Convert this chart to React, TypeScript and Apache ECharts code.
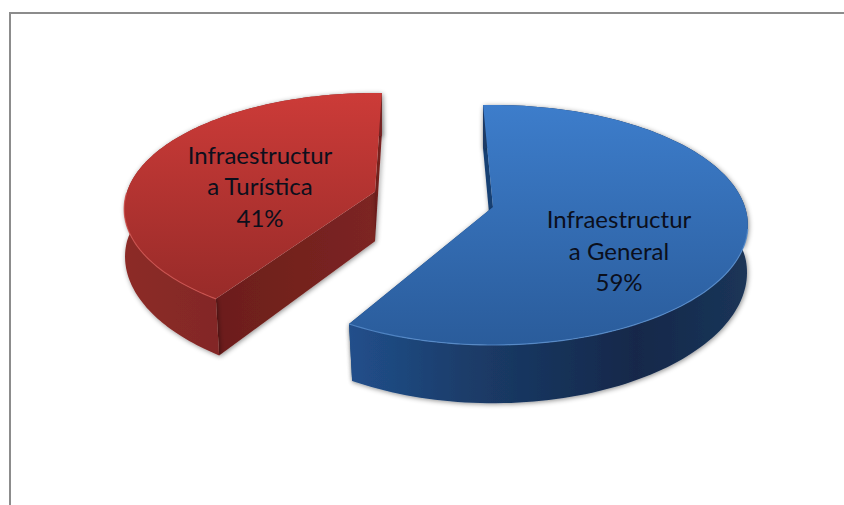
import React, { useEffect, useRef } from "react";
import * as echarts from "echarts";

const categories = ["Infraestructura General", "Infraestructura Turística"];
const values = [59, 41];

// Projection of each exploded slice (layout only)
const centers = [[493, 207], [375, 191.7]];
const radiiX = [252, 248];
const radiiY = [117.3, 113.5];
const startAngles = [-2.6, 214.2];
const labelPositions = [[619, 250], [260, 185.5]];
const PERSPECTIVE = 0.15;
const DEPTH = 49.5;
const BOTTOM_NARROWING = 0.025;
const WRAP_AT = 14;

const topColors = [["#3d7dcb", "#2a5c9b"], ["#cc3b38", "#982b29"]];
const rimColors = ["#5a90d0", "#cf5450"];
const wallColors = [
  [[0, "#214f8b"], [0.3, "#1b3c69"], [0.72, "#13284a"], [1, "#1b3558"]],
  [[0, "#8c2b28"], [0.5, "#7f2624"], [1, "#742321"]],
];
const faceColors = [
  [[0, "#173f73"], [1, "#173f73"]],
  [[0, "#6c1e1b"], [1, "#7c2522"]],
];

const rad = (d: number) => (d * Math.PI) / 180;

function App() {
  const ref = useRef<HTMLDivElement>(null);
  useEffect(() => {
    const chart = echarts.init(ref.current!, null, { renderer: "svg" });
    const total = values.reduce((a, b) => a + b, 0);
    const grad = (x2: number, y2: number, stops: any[]) =>
      new echarts.graphic.LinearGradient(0, 0, x2, y2, stops.map(([offset, color]) => ({ offset, color })));

    const renderItem = (params: any, api: any) => {
      const i = params.dataIndex;
      const [cx, cy] = centers[i];
      const a = radiiX[i];
      const b = radiiY[i];
      const start = startAngles[i];
      const end = start + (api.value(0) / total) * 360;

      const scale = (t: number) => 1 / (1 + PERSPECTIVE * Math.cos(rad(t)));
      const top = (t: number) => [
        cx + a * Math.sin(rad(t)) * scale(t),
        cy - b * Math.cos(rad(t)) * scale(t),
      ];
      const bottom = (t: number) => [
        cx + (1 - BOTTOM_NARROWING * Math.max(0, -Math.cos(rad(t)))) * a * Math.sin(rad(t)) * scale(t),
        cy - b * Math.cos(rad(t)) * scale(t) + DEPTH * scale(t),
      ];
      const angles: number[] = [];
      for (let k = 0; k <= 140; k++) angles.push(start + ((end - start) * k) / 140);

      const tip = [cx, cy];
      const tipBottom = [cx, cy + DEPTH];
      const shadow = {
        shadowBlur: 5,
        shadowColor: "rgba(0,0,0,0.45)",
        shadowOffsetX: 1,
        shadowOffsetY: 1,
      };
      const face = (t: number) => ({
        type: "polygon",
        shape: { points: [tip, top(t), bottom(t), tipBottom] },
        style: { fill: grad(1, 0, faceColors[i]), ...shadow },
      });
      const wall = {
        type: "polygon",
        shape: { points: [...angles.map(top), ...angles.slice().reverse().map(bottom)] },
        style: { fill: grad(1, 0, wallColors[i]), ...shadow },
      };
      const topFace = {
        type: "polygon",
        shape: { points: [tip, ...angles.map(top)] },
        style: { fill: grad(0, 1, [[0, topColors[i][0]], [1, topColors[i][1]]]) },
      };
      const rimAngles = angles.filter((t) => {
        const n = ((t % 360) + 360) % 360;
        return n > 100 && n < 270;
      });
      const rim = {
        type: "polyline",
        shape: { points: rimAngles.map(top) },
        style: { fill: "none", stroke: rimColors[i], lineWidth: 1.2, opacity: 0.8 },
      };
      const name = categories[i];
      const label = {
        type: "text",
        x: labelPositions[i][0],
        y: labelPositions[i][1],
        style: {
          text: `${name.slice(0, WRAP_AT)}\n${name.slice(WRAP_AT)}\n${values[i]}%`,
          fontFamily: "Lato, sans-serif",
          fontSize: 24,
          lineHeight: 31.5,
          fill: "#0b0f1c",
          align: "center",
          verticalAlign: "middle",
        },
      };
      return { type: "group", children: [face(start), face(end), wall, topFace, rim, label] };
    };

    chart.setOption({
      animation: false,
      backgroundColor: "#ffffff",
      graphic: [
        {
          type: "polyline",
          shape: { points: [[10, 505], [10, 13], [844, 13]] },
          style: { fill: "none", stroke: "#8c8c8c", lineWidth: 2 },
          silent: true,
        },
      ],
      series: [
        {
          type: "custom",
          coordinateSystem: "none",
          renderItem,
          data: categories.map((name, i) => ({ name, value: values[i] })),
        },
      ],
    });
    return () => chart.dispose();
  }, []);
  return <div ref={ref} style={{ position: "fixed", left: 0, top: 0, width: 844, height: 505 }} />;
}

export default App;
